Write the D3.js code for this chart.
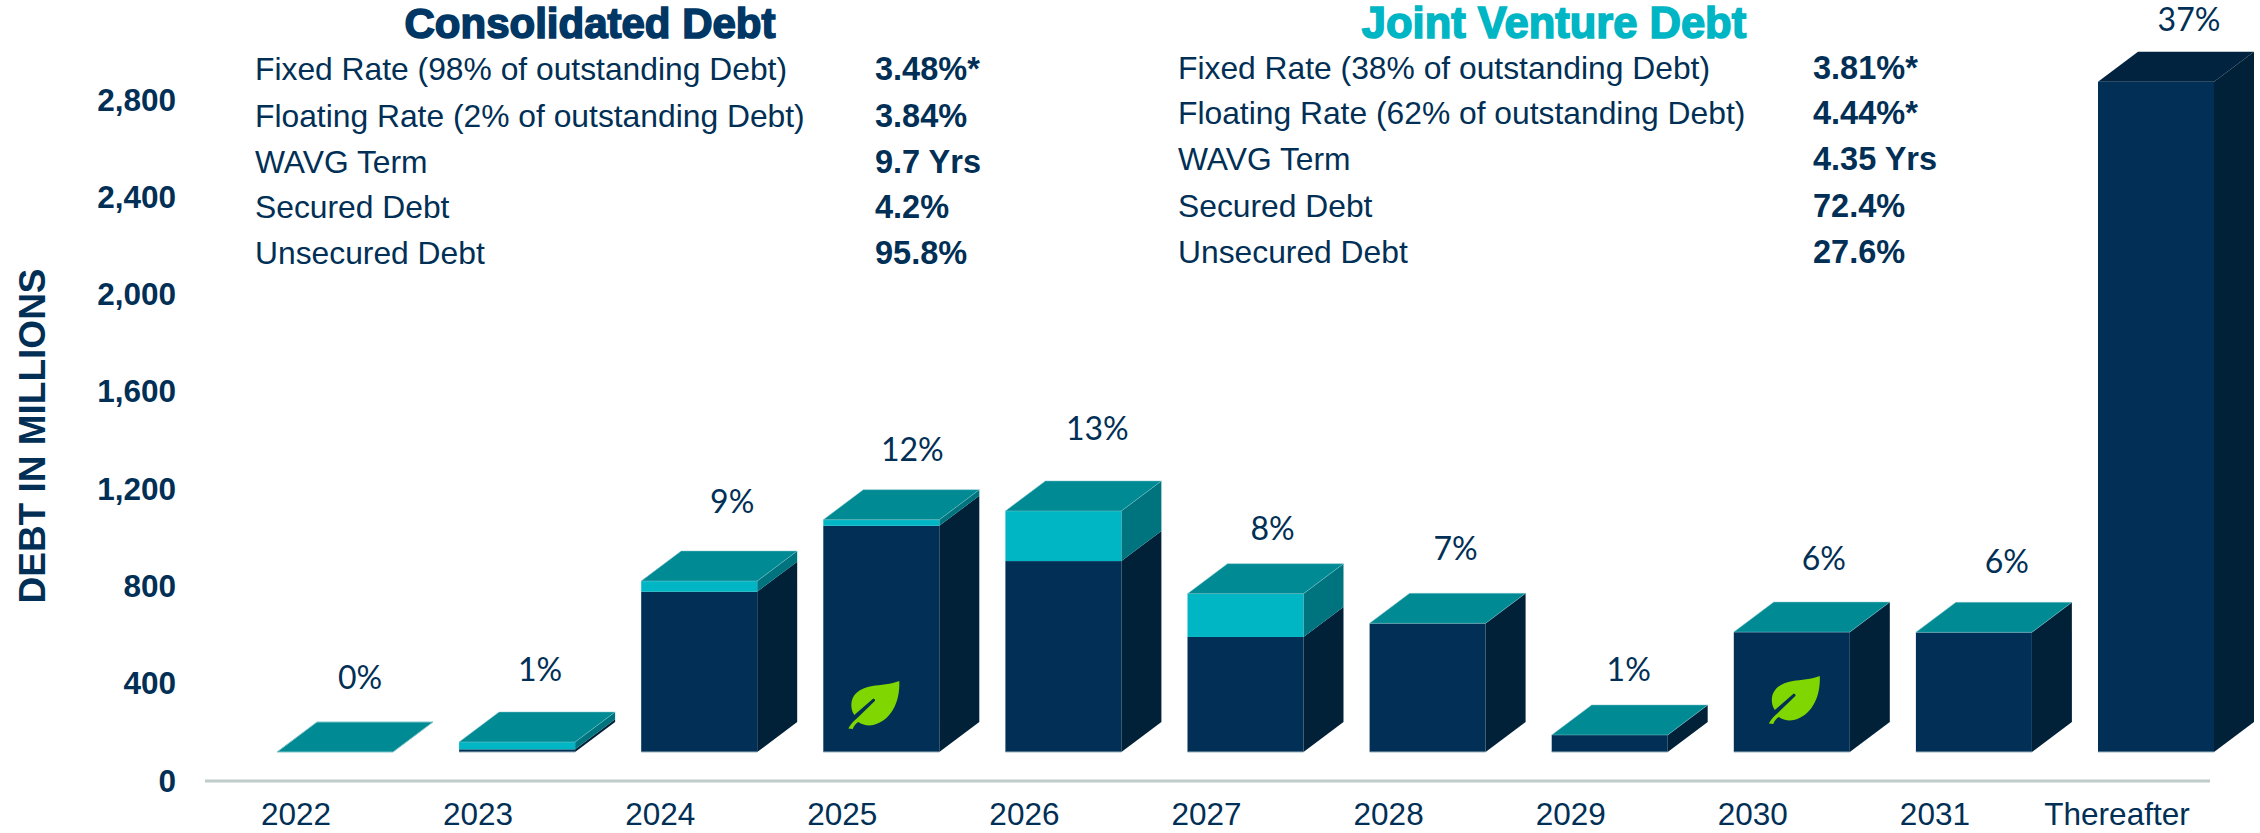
<!DOCTYPE html>
<html>
<head>
<meta charset="utf-8">
<script src="https://cdnjs.cloudflare.com/ajax/libs/d3/7.8.5/d3.min.js"></script>
<style>
html,body{margin:0;padding:0;background:#fff;overflow:hidden}
svg{display:block}
text{font-family:"Liberation Sans",Arial,sans-serif;fill:#012F55}
</style>
</head>
<body>
<svg id="chart" width="2260" height="833"></svg>
<script>
// ---- data ----
const categories = ["2022","2023","2024","2025","2026","2027","2028","2029","2030","2031","Thereafter"];
const consolidatedDebt = [0,11,659,930,785,473,529,70,493,492,2756];
const jointVentureDebt = [0,30,44,25,206,178,0,0,0,0,0];
const shareLabels = ["0%","1%","9%","12%","13%","8%","7%","1%","6%","6%","37%"];
const greenBondYears = ["2025","2030"];
const yTicks = [0,400,800,1200,1600,2000,2400,2800];
const consolidatedRows = ["Fixed Rate (98% of outstanding Debt)","Floating Rate (2% of outstanding Debt)","WAVG Term","Secured Debt","Unsecured Debt"];
const consolidatedStats = ["3.48%*","3.84%","9.7 Yrs","4.2%","95.8%"];
const jointVentureRows = ["Fixed Rate (38% of outstanding Debt)","Floating Rate (62% of outstanding Debt)","WAVG Term","Secured Debt","Unsecured Debt"];
const jointVentureStats = ["3.81%*","4.44%*","4.35 Yrs","72.4%","27.6%"];

// ---- layout ----
const NAVY="#012F55", NAVY_SIDE="#012139", TEAL_TOP="#008A94", CYAN="#00B6C4", CYAN_SIDE="#00747E", DARK_TOP="#01233F";
const darkTopCategory="Thereafter";
const depthX=40, depthY=30, floorLift=29;
const labelDx=[25,23,33,31,34,27,28,19,32,33,33];
const labelGap=[44,42,49,40,52,35,45,35,43,41,32];
const leafDx={"2025":25,"2030":35};
const leafLift={"2025":71,"2030":76};

const svg=d3.select("#chart");
const x=d3.scaleBand().domain(categories).range([277,2214]).paddingInner(0.363).paddingOuter(0);
const xLabel=x.copy().range([238,2175]);
const y=d3.scaleLinear().domain([0,2800]).range([781,100]);
const by=v=>y(v)-floorLift;

// axes
const gy=svg.append("g").attr("transform","translate(176,0)")
  .call(d3.axisLeft(y).tickValues(yTicks).tickFormat(d3.format(",")).tickSize(0).tickPadding(0));
gy.select(".domain").remove();
gy.selectAll("text").attr("font-size",31.5).attr("font-weight","bold").style("font-family",'"Liberation Sans"');

const gx=svg.append("g").attr("transform","translate(0,781)")
  .call(d3.axisBottom(xLabel).tickSize(0).tickPadding(22));
gx.select(".domain").remove();
gx.selectAll("text").attr("font-size",31.5).style("font-family",'"Liberation Sans"');
svg.append("line").attr("x1",205).attr("x2",2210).attr("y1",y(0)).attr("y2",y(0))
  .attr("stroke","#C0CCCA").attr("stroke-width",3);

svg.append("text").attr("transform","translate(32,436) rotate(-90)")
  .attr("text-anchor","middle").attr("dy",".35em")
  .attr("font-size",37).attr("font-weight","bold").text("DEBT IN MILLIONS");

// bars
const poly=pts=>pts.map(p=>p.join(",")).join(" ");
categories.forEach((c,i)=>{
  const g=svg.append("g");
  const x0=x(c), x1=x0+x.bandwidth();
  const a=consolidatedDebt[i], b=jointVentureDebt[i];
  const base=by(0), mid=by(a), top=by(a+b);
  const seg=(y0,y1,front,side)=>{
    if(y0===y1) return;
    g.append("polygon").attr("fill",side)
      .attr("points",poly([[x1,y0],[x1+depthX,y0-depthY],[x1+depthX,y1-depthY],[x1,y1]]));
    g.append("rect").attr("x",x0).attr("y",y1).attr("width",x1-x0).attr("height",y0-y1).attr("fill",front);
  };
  seg(base,mid,NAVY,NAVY_SIDE);
  seg(mid,top,CYAN,CYAN_SIDE);
  const dark=c===darkTopCategory;
  g.append("polygon").attr("fill",dark?DARK_TOP:TEAL_TOP).attr("stroke",dark?"none":"#7FC4CA").attr("stroke-width",a+b===0?1:0.5)
    .attr("points",poly([[x0,top],[x0+depthX,top-depthY],[x1+depthX,top-depthY],[x1,top]]));
  if(a+b>0) g.append("line").attr("x1",x0).attr("x2",x1).attr("y1",base).attr("y2",base)
    .attr("stroke","#9DB4C0").attr("stroke-width",1);
  svg.append("text").attr("x",(x0+x1)/2+labelDx[i]).attr("y",top-depthY-labelGap[i])
    .attr("dy",".35em").attr("text-anchor","middle").attr("font-size",32)
    .style("font-family","Lato").text(shareLabels[i]);
});

// leaf icons
const leaf="M51 0C43 3 32 4 24 5C11 7 3 14 3 24C3 28 4 31 6 34L25 17.5Q27.5 18.5 26.5 20L9 37C5 40 2 44 0 47.5L4.5 48C5.5 45 7.5 42.5 10 41C14 44 20 45 25 44C42 40 52 22 51 0Z";
greenBondYears.forEach(c=>{
  svg.append("path").attr("d",leaf).attr("fill","#7FD600")
    .attr("transform",`translate(${x(c)+leafDx[c]},${by(0)-leafLift[c]})`);
});

// tables
function table(titleText,titleColor,titleX,titleSize,rows,stats,xRow,xStat,rowYs){
  svg.append("text").attr("x",titleX).attr("y",23).attr("dy",".35em").attr("text-anchor","middle")
    .attr("font-size",titleSize).attr("font-weight","bold").attr("stroke",titleColor).attr("stroke-width",1.6)
    .style("fill",titleColor).text(titleText);
  rows.forEach((r,i)=>{
    svg.append("text").attr("x",xRow).attr("y",rowYs[i]).attr("dy",".35em").attr("font-size",31.8).text(r);
    svg.append("text").attr("x",xStat).attr("y",rowYs[i]).attr("dy",".35em").attr("font-size",32.5)
      .attr("font-weight","bold").text(stats[i]);
  });
}
table("Consolidated Debt","#003764",590,42,consolidatedRows,consolidatedStats,255,875,[69,116,162,207,253]);
table("Joint Venture Debt",CYAN,1554,43.5,jointVentureRows,jointVentureStats,1178,1813,[68,113,159,206,252]);
</script>
</body>
</html>
